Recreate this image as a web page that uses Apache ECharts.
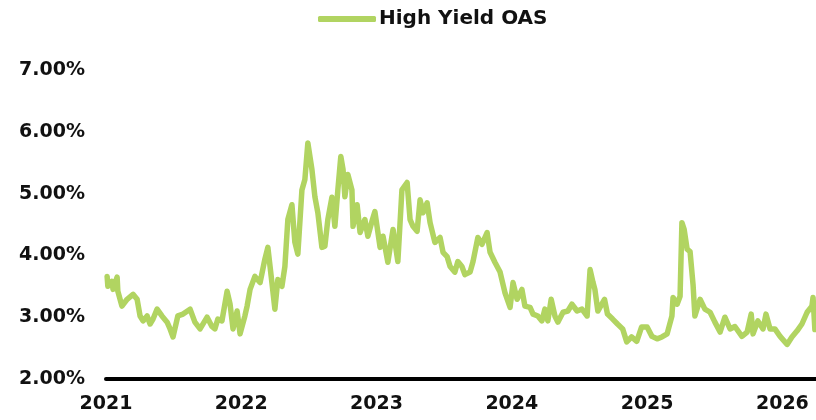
<!DOCTYPE html>
<html>
<head>
<meta charset="utf-8">
<script src="https://cdn.jsdelivr.net/npm/echarts@6/dist/echarts.min.js"></script>
<style>
html,body{margin:0;padding:0;background:#fff;}
#chart{width:816px;height:420px;}
</style>
</head>
<body>
<div id="chart"></div>
<script>
const seriesName = 'High Yield OAS';
const yTicks = [2, 3, 4, 5, 6, 7];
const xYears = [2021, 2022, 2023, 2024, 2025, 2026];
const dates = [
'2021-01-04','2021-01-06','2021-01-17','2021-01-20','2021-01-31','2021-02-02','2021-02-13','2021-02-27','2021-03-15','2021-03-26',
'2021-04-03','2021-04-11','2021-04-22','2021-04-30','2021-05-08','2021-05-19','2021-06-01','2021-06-15','2021-06-23','2021-07-01',
'2021-07-14','2021-07-28','2021-08-16','2021-08-29','2021-09-12','2021-10-01','2021-10-14','2021-10-22','2021-10-30','2021-11-10',
'2021-11-24','2021-12-02','2021-12-10','2021-12-21','2021-12-29','2022-01-11','2022-01-17','2022-01-25','2022-02-07','2022-02-21',
'2022-03-06','2022-03-14','2022-03-25','2022-04-02','2022-04-10','2022-04-21','2022-04-29','2022-05-07','2022-05-18','2022-05-26',
'2022-06-03','2022-06-14','2022-06-22','2022-06-30','2022-07-11','2022-07-19','2022-07-27','2022-08-07','2022-08-15','2022-08-23',
'2022-09-03','2022-09-11','2022-09-19','2022-09-27','2022-10-03','2022-10-08','2022-10-16','2022-10-27','2022-10-30','2022-11-10',
'2022-11-18','2022-12-01','2022-12-09','2022-12-20','2022-12-28','2023-01-11','2023-01-19','2023-02-01','2023-02-15','2023-02-28',
'2023-03-11','2023-03-25','2023-04-02','2023-04-10','2023-04-21','2023-04-29','2023-05-07','2023-05-18','2023-05-26','2023-06-08',
'2023-06-22','2023-06-30','2023-07-11','2023-07-19','2023-08-01','2023-08-09','2023-08-20','2023-08-28','2023-09-11','2023-09-19',
'2023-10-02','2023-10-13','2023-10-27','2023-11-04','2023-11-17','2023-12-01','2023-12-14','2023-12-28','2024-01-05','2024-01-16',
'2024-01-29','2024-02-06','2024-02-20','2024-02-28','2024-03-12','2024-03-23','2024-03-31','2024-04-08','2024-04-17','2024-04-27',
'2024-05-05','2024-05-19','2024-06-01','2024-06-12','2024-06-26','2024-07-09','2024-07-23','2024-07-31','2024-08-08','2024-08-13',
'2024-08-21','2024-09-08','2024-09-16','2024-09-30','2024-10-13','2024-10-27','2024-11-07','2024-11-20','2024-12-04','2024-12-17',
'2025-01-01','2025-01-14','2025-01-28','2025-02-10','2025-02-24','2025-03-09','2025-03-12','2025-03-23','2025-03-31','2025-04-05',
'2025-04-11','2025-04-19','2025-04-27','2025-05-05','2025-05-10','2025-05-24','2025-06-06','2025-06-20','2025-07-03','2025-07-17',
'2025-07-30','2025-08-13','2025-08-26','2025-09-14','2025-09-28','2025-10-09','2025-10-14','2025-10-27','2025-11-10','2025-11-18',
'2025-11-29','2025-12-12','2025-12-26','2026-01-14','2026-01-27','2026-02-10','2026-02-23','2026-03-09','2026-03-22','2026-03-25',
'2026-03-30'
];
const oas = [
3.66,3.50,3.58,3.45,3.65,3.42,3.18,3.29,3.37,3.29,
3.02,2.94,3.02,2.89,2.97,3.13,3.02,2.92,2.81,2.68,
3.02,3.05,3.13,2.92,2.81,3.00,2.85,2.81,2.97,2.94,
3.42,3.21,2.81,3.10,2.73,3.02,3.18,3.45,3.66,3.56,
3.94,4.13,3.56,3.13,3.61,3.50,3.82,4.58,4.82,4.21,
4.02,5.06,5.23,5.82,5.39,4.95,4.69,4.13,4.15,4.58,
4.94,4.47,5.06,5.60,5.39,4.95,5.31,5.06,4.47,4.82,
4.37,4.58,4.31,4.55,4.71,4.13,4.31,3.89,4.42,3.90,
5.06,5.18,4.58,4.47,4.39,4.90,4.69,4.85,4.53,4.21,
4.29,4.05,3.98,3.82,3.73,3.90,3.82,3.69,3.73,3.90,
4.29,4.18,4.37,4.05,3.89,3.73,3.40,3.16,3.56,3.29,
3.45,3.18,3.16,3.05,3.02,2.94,3.13,2.94,3.29,3.02,
2.92,3.08,3.10,3.21,3.10,3.13,3.02,3.77,3.56,3.45,
3.10,3.29,3.05,2.97,2.89,2.81,2.60,2.68,2.61,2.84,
2.84,2.69,2.65,2.68,2.73,3.02,3.32,3.21,3.34,4.53,
4.42,4.10,4.06,3.53,3.02,3.29,3.13,3.08,2.92,2.76,
3.00,2.81,2.85,2.69,2.76,3.05,2.73,2.94,2.81,3.05,
2.81,2.81,2.69,2.56,2.68,2.78,2.89,3.08,3.18,3.32,
2.80
];
const xStart = '2021-01-01';
const xEnd = '2026-04-02';

const DAY = 86400000;
const data = dates.map((d, i) => [Date.parse(d), oas[i]]);
const FONT = '"DejaVu Sans", sans-serif';

const chart = echarts.init(document.getElementById('chart'), null, {renderer: 'canvas'});
chart.setOption({
  animation: false,
  backgroundColor: '#ffffff',
  legend: {
    top: 4,
    left: 313,
    icon: 'roundRect',
    itemWidth: 58,
    itemHeight: 6,
    itemGap: 10,
    textStyle: {fontFamily: FONT, fontWeight: 'bold', fontSize: 20, color: '#111111', padding: [0, 0, 0, -2]},
    data: [seriesName]
  },
  grid: {left: 106, right: 0, top: 70, bottom: 41, containLabel: false},
  xAxis: {
    type: 'value',
    min: Date.parse(xStart),
    max: Date.parse(xEnd),
    interval: 365.25 * DAY,
    axisLine: {show: true, onZero: false, lineStyle: {color: '#000000', width: 4}},
    axisTick: {show: false},
    splitLine: {show: false},
    axisLabel: {
      showMaxLabel: false,
      margin: 16,
      fontFamily: FONT, fontWeight: 'bold', fontSize: 19, color: '#111111',
      formatter: v => String(new Date(v).getUTCFullYear())
    }
  },
  yAxis: {
    type: 'value',
    min: yTicks[0],
    max: yTicks[yTicks.length - 1],
    interval: 1,
    axisLine: {show: false},
    axisTick: {show: false},
    splitLine: {show: false},
    axisLabel: {
      margin: 21,
      fontFamily: FONT, fontWeight: 'bold', fontSize: 19, color: '#111111',
      formatter: v => v.toFixed(2) + '%'
    }
  },
  series: [{
    name: seriesName,
    type: 'line',
    data: data,
    showSymbol: false,
    symbol: 'none',
    smooth: false,
    clip: false,
    lineStyle: {color: '#b1d461', width: 5.5, join: 'round', cap: 'round'},
    itemStyle: {color: '#b1d461'}
  }]
});
</script>
</body>
</html>
